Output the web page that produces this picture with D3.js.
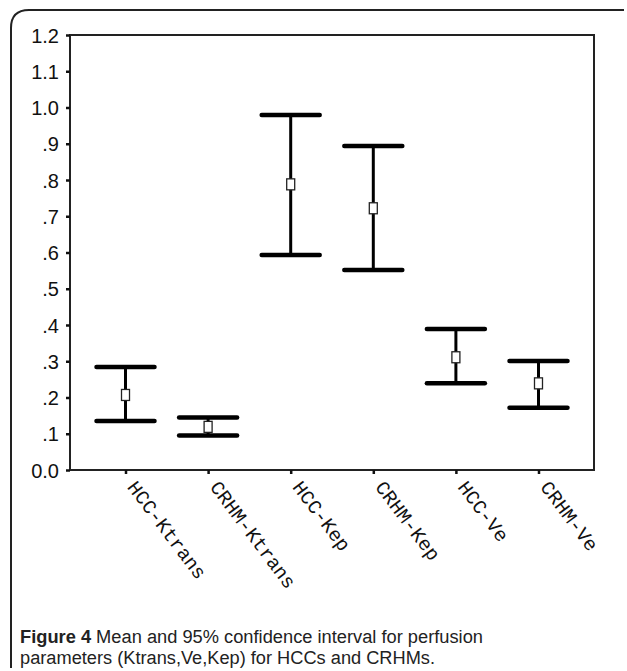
<!DOCTYPE html>
<html><head><meta charset="utf-8">
<script src="https://cdn.jsdelivr.net/npm/d3@7"></script>
<style>body{margin:0;background:#fff}</style>
</head><body>
<script>
const categories = ["HCC-Ktrans","CRHM-Ktrans","HCC-Kep","CRHM-Kep","HCC-Ve","CRHM-Ve"];
const means = [0.207, 0.119, 0.788, 0.722, 0.311, 0.239];
const lower = [0.135, 0.095, 0.593, 0.552, 0.239, 0.172];
const upper = [0.284, 0.145, 0.979, 0.894, 0.389, 0.301];
const yTicks = [0,0.1,0.2,0.3,0.4,0.5,0.6,0.7,0.8,0.9,1.0,1.1,1.2];
const yTickLabels = ["0.0",".1",".2",".3",".4",".5",".6",".7",".8",".9","1.0","1.1","1.2"];

const W=627,H=671;
const svg=d3.select("body").append("svg").attr("width",W).attr("height",H);
// outer figure frame
svg.append("path").attr("d","M11,668 L11,28 Q11,10 29,10 L624,10")
  .attr("fill","none").attr("stroke","#222").attr("stroke-width",2);

const L=70,R=594,T=35,B=470;
const x=d3.scalePoint().domain(categories).range([L,R]).padding(0.672);
const y=d3.scaleLinear().domain([0,1.2]).range([B,T]);

svg.append("rect").attr("x",L).attr("y",T).attr("width",R-L).attr("height",B-T)
  .attr("fill","none").attr("stroke","#222").attr("stroke-width",2);

const yAxis=svg.append("g").attr("transform",`translate(${L},0)`)
  .call(d3.axisLeft(y).tickValues(yTicks).tickSize(4).tickPadding(7).tickFormat((d,i)=>yTickLabels[i]));
yAxis.select(".domain").remove();
yAxis.selectAll(".tick line").attr("stroke","#111").attr("stroke-width",2.5);
yAxis.selectAll("text").attr("font-family","'Liberation Sans Narrow','Liberation Sans',sans-serif")
  .attr("font-size",20).attr("fill","#111").attr("dy","0.35em");

const xAxis=svg.append("g").attr("transform",`translate(0,${B})`)
  .call(d3.axisBottom(x).tickSize(4).tickFormat(""));
xAxis.select(".domain").remove();
xAxis.selectAll(".tick line").attr("stroke","#111").attr("stroke-width",2.5);

svg.append("g").selectAll("text").data(categories).join("text")
  .attr("transform",d=>`translate(${x(d)+12},${B+9}) rotate(53)`)
  .attr("dy","0.7em")
  .attr("font-family","'Liberation Mono',monospace").attr("font-size",19.5).attr("fill","#111")
  .text(d=>d);

const g=svg.append("g");
const cap=29;
categories.forEach((c,i)=>{
  const cx=x(c);
  g.append("line").attr("x1",cx).attr("x2",cx).attr("y1",y(upper[i])).attr("y2",y(lower[i]))
    .attr("stroke","#000").attr("stroke-width",3);
  [upper[i],lower[i]].forEach(v=>{
    g.append("line").attr("x1",cx-cap).attr("x2",cx+cap).attr("y1",y(v)).attr("y2",y(v))
      .attr("stroke","#000").attr("stroke-width",4.5).attr("stroke-linecap","round");
  });
  g.append("rect").attr("x",cx-4).attr("y",y(means[i])-5.5).attr("width",8).attr("height",11)
    .attr("fill","#fff").attr("stroke","#222").attr("stroke-width",1.3);
});

const cap1=svg.append("text").attr("x",20).attr("y",643)
  .attr("font-family","'Liberation Sans',sans-serif").attr("font-size",18).attr("fill","#222")
  .attr("textLength",463).attr("lengthAdjust","spacingAndGlyphs");
cap1.append("tspan").attr("font-weight","bold").text("Figure 4");
cap1.append("tspan").text(" Mean and 95% confidence interval for perfusion");
svg.append("text").attr("x",20).attr("y",664)
  .attr("font-family","'Liberation Sans',sans-serif").attr("font-size",18).attr("fill","#222")
  .attr("textLength",415).attr("lengthAdjust","spacingAndGlyphs")
  .text("parameters (Ktrans,Ve,Kep) for HCCs and CRHMs.");
</script>
</body></html>
